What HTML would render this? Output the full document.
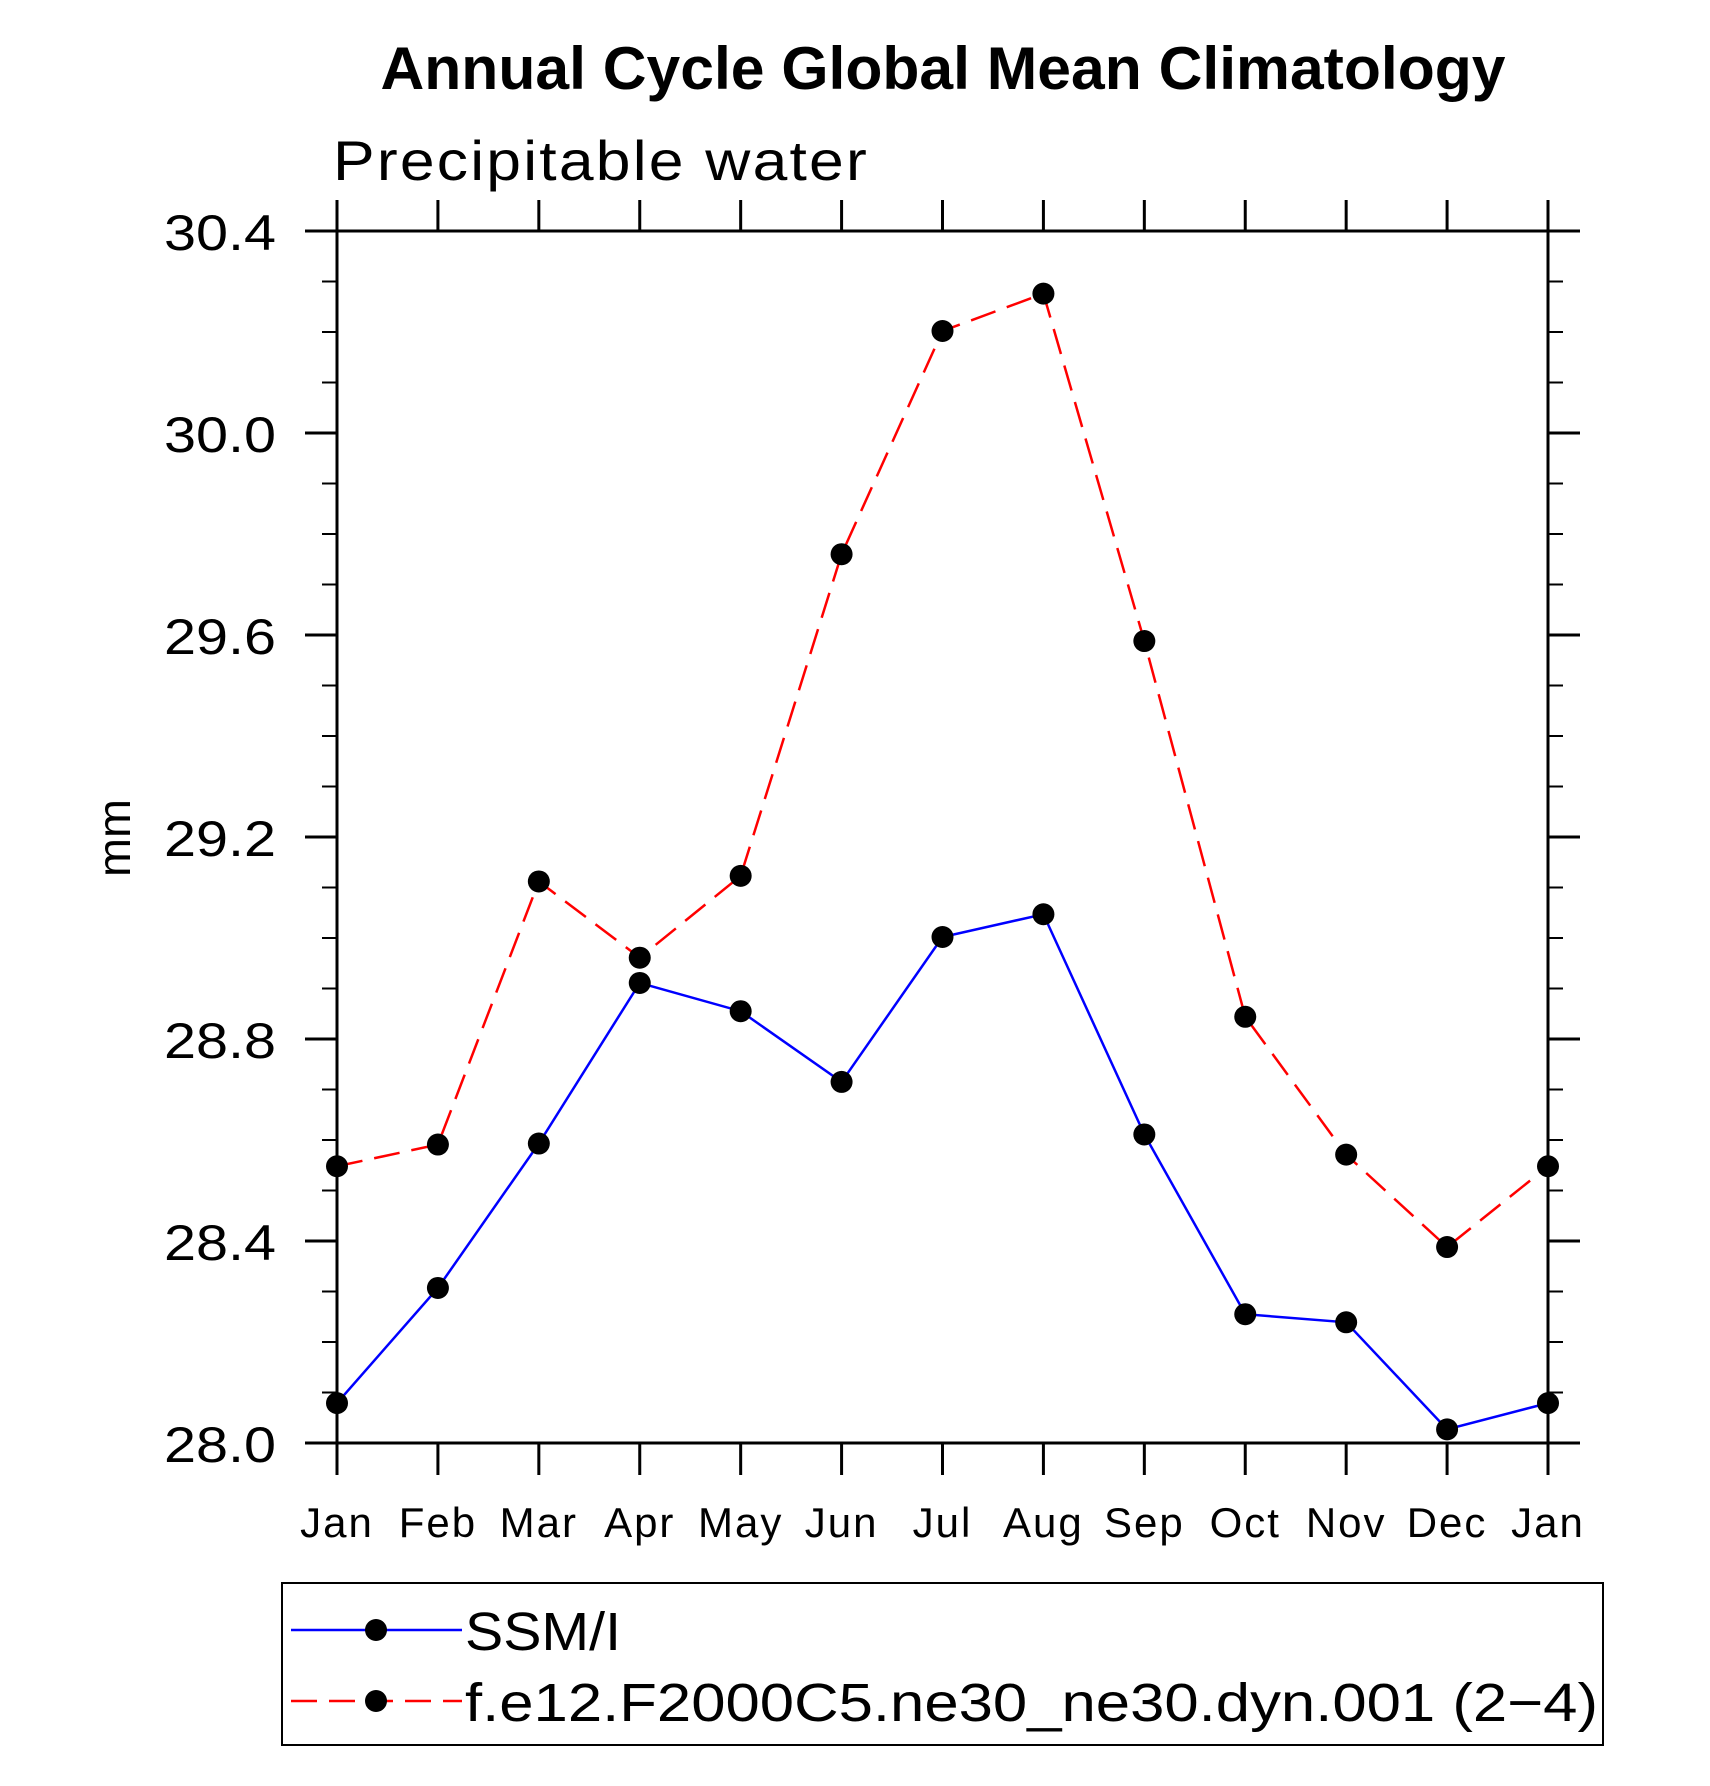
<!DOCTYPE html>
<html><head><meta charset="utf-8"><style>html,body{margin:0;padding:0;background:#fff}svg{display:block}</style></head>
<body>
<svg id="chart" width="1710" height="1786" viewBox="0 0 1710 1786" xmlns="http://www.w3.org/2000/svg" font-family="'Liberation Sans', sans-serif">
<text x="943" y="89" text-anchor="middle" font-size="60" font-weight="bold" textLength="1125" lengthAdjust="spacingAndGlyphs">Annual Cycle Global Mean Climatology</text>
<text x="333" y="180" font-size="56" font-weight="300" textLength="536" lengthAdjust="spacingAndGlyphs" letter-spacing="2">Precipitable water</text>
<text transform="translate(130,838) rotate(-90)" text-anchor="middle" font-size="46" font-weight="300" textLength="78" lengthAdjust="spacingAndGlyphs">mm</text>
<g id="axes"></g>
<g id="series"></g>
<g>
<rect x="282" y="1583" width="1321" height="162" fill="none" stroke="#000" stroke-width="2"/>
<g>
<line x1="291" y1="1630" x2="462" y2="1630" stroke="#0000ff" stroke-width="2.5"/>
<circle cx="376" cy="1630" r="11" fill="#000"/>
<text x="465" y="1650" font-size="54" textLength="156" lengthAdjust="spacingAndGlyphs">SSM/I</text>
</g>
<g>
<line x1="291" y1="1701" x2="462" y2="1701" stroke="#ff0000" stroke-width="2.5" stroke-dasharray="26,12"/>
<circle cx="376" cy="1701" r="11" fill="#000"/>
<text x="465" y="1721" font-size="54" textLength="1133" lengthAdjust="spacingAndGlyphs">f.e12.F2000C5.ne30_ne30.dyn.001 (2−4)</text>
</g>
</g>
</svg>
<script>
const months = ["Jan","Feb","Mar","Apr","May","Jun","Jul","Aug","Sep","Oct","Nov","Dec","Jan"];
const ssmiValues = [28.079,28.307,28.593,28.911,28.855,28.715,29.002,29.047,28.611,28.255,28.239,28.027,28.079];
const modelValues = [28.548,28.591,29.112,28.961,29.123,29.760,30.202,30.276,29.588,28.844,28.571,28.388,28.548];
const yTicks = [28.0,28.4,28.8,29.2,29.6,30.0,30.4];
const yTickLabels = ["28.0","28.4","28.8","29.2","29.6","30.0","30.4"];

const NS="http://www.w3.org/2000/svg";
const L=337,R=1548,T=231,B=1443,YMIN=28.0,YMAX=30.4;
function xs(i){return L+i*(R-L)/(months.length-1);}
function ys(v){return B-(v-YMIN)/(YMAX-YMIN)*(B-T);}
function mk(tag,attrs,parent){const e=document.createElementNS(NS,tag);for(const k in attrs)e.setAttribute(k,attrs[k]);parent.appendChild(e);return e;}
const ax=document.getElementById('axes');
const sw=3;
const fr=mk('rect',{x:L,y:T,width:R-L,height:B-T,fill:'none',stroke:'#000','stroke-width':sw},ax);


months.forEach((m,i)=>{
  const x=xs(i);
  const t1=mk('line',{x1:x,y1:B,x2:x,y2:B+32,stroke:'#000','stroke-width':sw},ax);
  
  
  const t2=mk('line',{x1:x,y1:T,x2:x,y2:T-31,stroke:'#000','stroke-width':sw},ax);
  
  
  const tx=mk('text',{x:x,y:1537,'text-anchor':'middle','font-size':42,'font-weight':'300','letter-spacing':'2'},ax);
  tx.textContent=m;
  
  
});
for(let k=0;k<=24;k++){
  const v=YMIN+k*0.1;const y=ys(v);const major=(k%4===0);const len=major?32:15;
  const a=mk('line',{x1:L-len,y1:y,x2:L,y2:y,stroke:'#000','stroke-width':major?sw:2},ax);
  
  
  const b=mk('line',{x1:R,y1:y,x2:R+len,y2:y,stroke:'#000','stroke-width':major?sw:2},ax);
  
  
}
yTicks.forEach((v,i)=>{
  const tx=mk('text',{x:276,y:ys(v)+19,'text-anchor':'end','font-size':50,'font-weight':'300',textLength:112,lengthAdjust:'spacingAndGlyphs'},ax);
  tx.textContent=yTickLabels[i];
  
  
});
const sg=document.getElementById('series');
function drawSeries(vals,color,dash,name){
  const pts=vals.map((v,i)=>xs(i)+','+ys(v)).join(' ');
  const pl=mk('polyline',{points:pts,fill:'none',stroke:color,'stroke-width':2.5},sg);
  if(dash)pl.setAttribute('stroke-dasharray',dash);
  
  
  vals.forEach((v,i)=>{
    const c=mk('circle',{cx:xs(i),cy:ys(v),r:11,fill:'#000'},sg);
    
    
  });
}
drawSeries(modelValues,'#ff0000','26,12','model');
drawSeries(ssmiValues,'#0000ff',null,'ssmi');
</script>
</body></html>
